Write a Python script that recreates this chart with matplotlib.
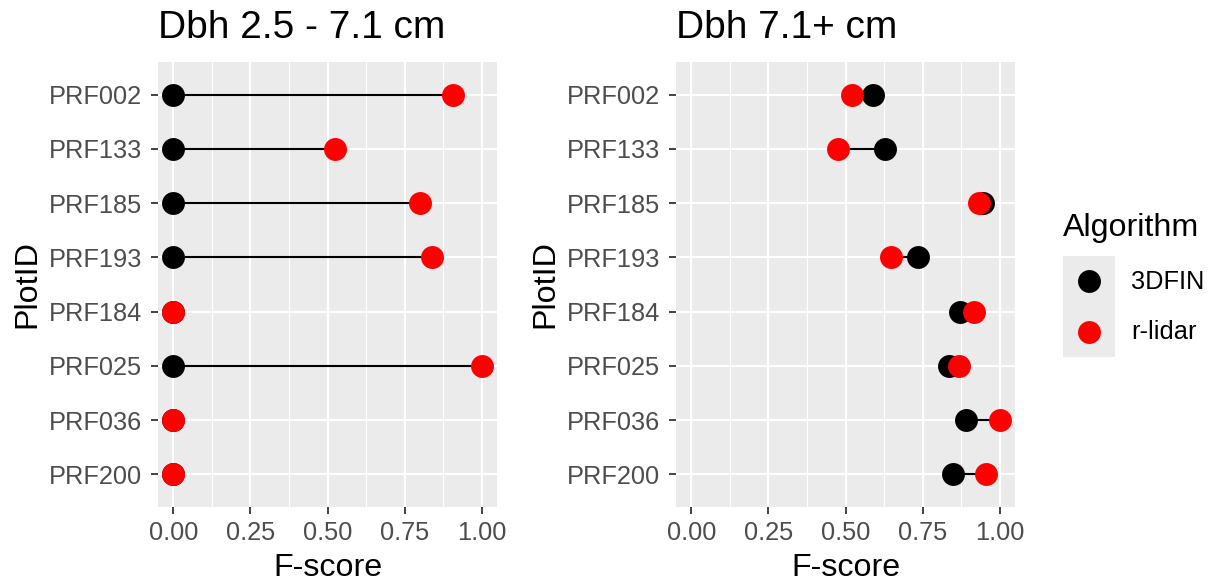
import matplotlib
matplotlib.use('Agg')
import matplotlib.pyplot as plt
import numpy as np

plt.rcParams['font.family'] = ['Liberation Sans', 'DejaVu Sans']

plot_ids = ['PRF002', 'PRF133', 'PRF185', 'PRF193', 'PRF184', 'PRF025', 'PRF036', 'PRF200']
titles = ['Dbh 2.5 - 7.1 cm', 'Dbh 7.1+ cm']
algorithms = ['3DFIN', 'r-lidar']
algo_colors = ['black', 'red']

# F-score per plot, small trees
small_3dfin = [0.0, 0.0, 0.0, 0.0, 0.0, 0.0, 0.0, 0.0]
small_rlidar = [0.906, 0.523, 0.80, 0.84, 0.0, 1.0, 0.0, 0.0]
# F-score per plot, large trees
large_3dfin = [0.588, 0.628, 0.946, 0.735, 0.870, 0.837, 0.890, 0.848]
large_rlidar = [0.522, 0.477, 0.933, 0.648, 0.917, 0.867, 1.0, 0.955]

xticks = [0.0, 0.25, 0.5, 0.75, 1.0]
xtick_labels = ['0.00', '0.25', '0.50', '0.75', '1.00']

W, H = 1216, 581
fig = plt.figure(figsize=(W / 100, H / 100), dpi=100)


def px_axes(x0, y0, x1, y1):
    return fig.add_axes([x0 / W, 1 - y1 / H, (x1 - x0) / W, (y1 - y0) / H])


panel_bg = '#EBEBEB'
ms = 16.5
tick_fs = 18.3
label_fs = 23.2
panels = [(158, 497, small_3dfin, small_rlidar), (676, 1015, large_3dfin, large_rlidar)]
ypos = np.arange(len(plot_ids))[::-1] + 1

for (x0, x1, a, b), title in zip(panels, titles):
    ax = px_axes(x0, 62, x1, 507)
    ax.set_facecolor(panel_bg)
    for s in ax.spines.values():
        s.set_visible(False)
    ax.set_xlim(-0.05, 1.05)
    ax.set_ylim(0.4, len(plot_ids) + 0.6)
    ax.set_xticks(xticks)
    ax.set_xticklabels(xtick_labels)
    ax.set_xticks([0.125, 0.375, 0.625, 0.875], minor=True)
    ax.set_yticks(ypos)
    ax.set_yticklabels(plot_ids)
    ax.grid(True, which='major', color='white', linewidth=1.5)
    ax.grid(True, which='minor', axis='x', color='white', linewidth=0.75)
    ax.set_axisbelow(True)
    ax.tick_params(which='major', length=5, width=1.3, color='#333333',
                   labelcolor='#4D4D4D', labelsize=tick_fs)
    ax.tick_params(axis='y', pad=6.3)
    ax.tick_params(axis='x', pad=5)
    ax.tick_params(which='minor', length=0)
    ax.hlines(ypos, a, b, color='black', linewidth=1.5, zorder=2)
    ax.plot(a, ypos, 'o', color=algo_colors[0], markersize=ms, markeredgewidth=0, zorder=3)
    ax.plot(b, ypos, 'o', color=algo_colors[1], markersize=ms, markeredgewidth=0, zorder=4)
    ax.set_xlabel('F-score', fontsize=label_fs, labelpad=6)
    ax.set_ylabel('PlotID', fontsize=label_fs, labelpad=5)
    ax.set_title(title, loc='left', fontsize=28, pad=17)

# legend
fig.text(1063 / W, 1 - 228 / H, 'Algorithm', fontsize=label_fs, va='center', ha='left')
lax = px_axes(1063, 256, 1115, 357)
lax.set_facecolor(panel_bg)
for s in lax.spines.values():
    s.set_visible(False)
lax.set_xticks([])
lax.set_yticks([])
lax.set_xlim(0, 1)
lax.set_ylim(0, 2)
for i, (name, col) in enumerate(zip(algorithms, algo_colors)):
    yy = 1.5 - i
    lax.plot([0.5], [yy], 'o', color=col, markersize=ms, markeredgewidth=0)
    fig.text(1131 / W, 1 - (282 + 50 * i) / H, name, fontsize=tick_fs, va='center', ha='left')

fig.savefig('out.png', dpi=100)
